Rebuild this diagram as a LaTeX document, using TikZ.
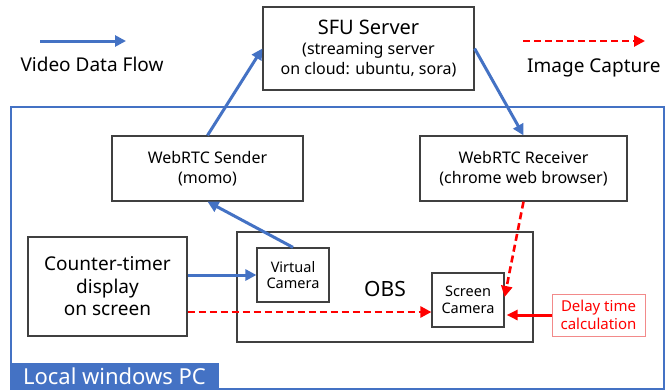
\documentclass[tikz,border=0pt]{standalone}
\usepackage{fontspec}
\setmainfont{Noto Sans}
\usetikzlibrary{arrows.meta,positioning,calc}
\definecolor{flowblue}{HTML}{4472C4}
\definecolor{capred}{HTML}{FF0000}
\definecolor{boxgray}{HTML}{404040}
\definecolor{calcpink}{HTML}{F28A8A}
\tikzset{
  box/.style={draw=boxgray, line width=1.2pt, fill=white, align=center,
              inner sep=2pt, font=\fontsize{16}{20}\selectfont},
  cambox/.style={box, font=\fontsize{14.5}{16.5}\selectfont},
  legendtext/.style={font=\fontsize{19}{22}\selectfont, inner sep=0pt},
  flow/.style={-{Triangle[length=11pt,width=11pt]}, line width=3pt, color=flowblue},
  capture/.style={-{Triangle[length=11pt,width=11pt]}, line width=2.6pt, color=capred,
                  dash pattern=on 7pt off 4pt},
  calcarr/.style={-{Triangle[length=11pt,width=10pt]}, line width=3pt, color=capred}}
\begin{document}
\begin{tikzpicture}[x=1pt, y=-1pt]
    \useasboundingbox (0,0) rectangle (668,391);
    % legend
    \coordinate (vfa) at (40,41);
    \coordinate (vfb) at (126,41);
    \draw[flow] (vfa) -- (vfb);
    \node[legendtext] (vflabel) at (92,64) {Video Data Flow};
    \coordinate (ica) at (523,41);
    \coordinate (icb) at (645,41);
    \draw[capture] (ica) -- (icb);
    \node[legendtext, anchor=west] (iclabel) at (527,68) {Image Capture};
    % the local machine
    \node[draw=flowblue, line width=2.5pt, minimum width=653pt, minimum height=282pt,
          inner sep=0pt] (pc) at (337.5,248) {};
    \node[fill=flowblue, text=white, anchor=south west, minimum width=209pt,
          minimum height=27pt, inner sep=0pt, font=\fontsize{22}{24}\selectfont]
      (pclabel) at (pc.south west) {Local windows PC};
    % server on cloud
    \node[box, minimum width=211pt, minimum height=83pt] (sfu) at (368.5,48.5)
      {{\fontsize{20}{24}\selectfont SFU Server}\\(streaming server\\on cloud: ubuntu, sora)};
    \node[box, minimum width=191pt, minimum height=65pt] (sender) at (207.5,168.5)
      {WebRTC Sender\\(momo)};
    \node[box, minimum width=207pt, minimum height=65pt] (receiver) at (523.5,168.5)
      {WebRTC Receiver\\(chrome web browser)};
    \node[box, minimum width=159pt, minimum height=99pt,
          font=\fontsize{19}{22.5}\selectfont] (counter) at (107.5,286.5)
      {Counter-timer\\display\\on screen};
    % OBS and its two cameras
    \node[box, minimum width=296pt, minimum height=110pt] (obs) at (385,287) {};
    \node[font=\fontsize{21}{24}\selectfont] (obslabel) at (385,289) {OBS};
    \node[cambox, minimum width=72pt, minimum height=54pt] (virt) at (293,275)
      {Virtual\\Camera};
    \node[cambox, minimum width=72pt, minimum height=54pt] (screen) at (468,300)
      {Screen\\Camera};
    \node[draw=calcpink, line width=1pt, text=capred, align=center, minimum width=93pt,
          minimum height=42pt, inner sep=1pt, font=\fontsize{15}{18}\selectfont]
      (delay) at (598.5,315) {Delay time\\calculation};
    % video path
    \draw[flow] (sender.north) -- (sfu.west);
    \draw[flow] (sfu.east) -- (receiver.north);
    \draw[flow] (virt.north) -- (sender.south);
    \draw[flow] (counter.east |- virt.west) -- (virt.west);
    % captured images
    \coordinate (capin) at ($(screen.west)+(0,12)$);
    \coordinate (recin) at ($(screen.east)+(0,-3)$);
    \draw[capture] (counter.east |- capin) -- (capin);
    \draw[capture] (receiver.south) -- (recin);
    \draw[calcarr, shorten >=2pt] (delay.west) -- (screen.east |- delay.west);
  \end{tikzpicture}
\end{document}
